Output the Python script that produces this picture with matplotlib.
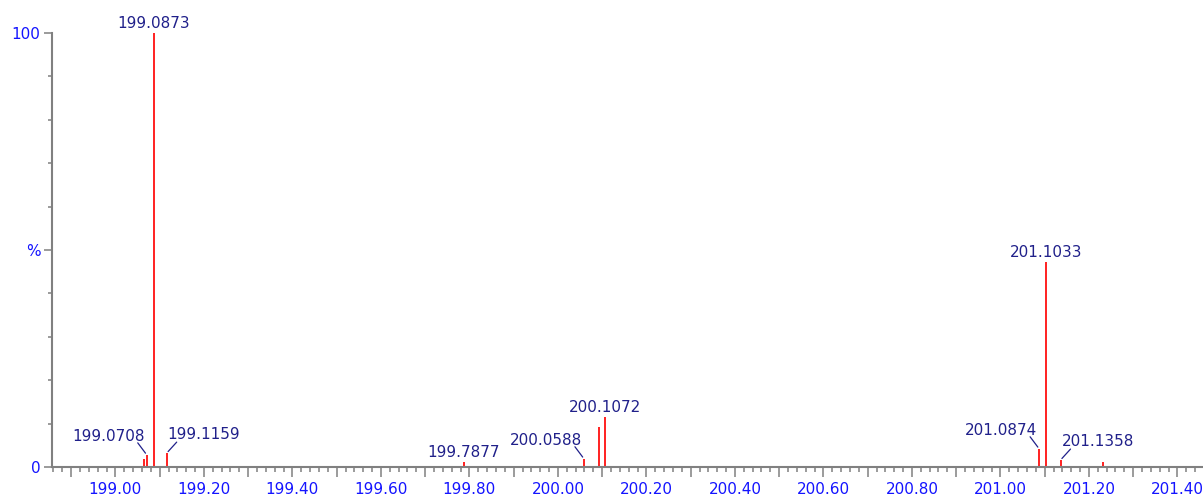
import matplotlib
matplotlib.use('Agg')
import matplotlib.pyplot as plt
from matplotlib.ticker import MultipleLocator, FixedLocator, FuncFormatter

# -------------------------------------------------------
# Peak list (m/z, relative intensity %)
mz = [199.0647, 199.0708, 199.0873, 199.1159, 199.7877, 200.0588,
      200.0930, 200.1072, 201.0874, 201.1033, 201.1358, 201.2310]
intensity = [1.8, 2.8, 100.0, 3.2, 1.2, 1.9,
             9.2, 11.5, 4.2, 47.2, 1.6, 1.2]

# Peaks that carry a label
labels = ['', '199.0708', '199.0873', '199.1159', '199.7877', '200.0588',
          '', '200.1072', '201.0874', '201.1033', '201.1358', '']

# how each label sits: 'top' = centred above, 'left'/'right' = with a leader line
placement = ['', 'left', 'top', 'right', 'top', 'left',
             '', 'top', 'left', 'top', 'right', '']

y_ticks = [0, 50, 100]
y_tick_labels = ['0', '%', '100']

# -------------------------------------------------------
# Colours
peak_color = '#ff2020'
label_color = '#20208a'
tick_color = '#1414ff'
axis_color = '#808080'

fig = plt.figure(figsize=(12.03, 4.97), dpi=100)
ax = fig.add_axes([52 / 1203, 30 / 497, 1 - 52 / 1203, 434 / 497])

# Draw the peaks as sticks
ax.vlines(mz, 0, intensity, color=peak_color, linewidth=1.4, clip_on=False)

# Peak labels
for x, y, text, where in zip(mz, intensity, labels, placement):
    if not text:
        continue
    if where == 'top':
        ax.annotate(text, xy=(x, y), xytext=(0, 5), textcoords='offset pixels',
                    ha='center', va='baseline', fontsize=11, color=label_color)
    elif where == 'left':
        ax.annotate(text, xy=(x, y), xytext=(-2, 14), textcoords='offset pixels',
                    ha='right', va='baseline', fontsize=11, color=label_color)
        ax.annotate('', xy=(x, y), xytext=(-9, 12), textcoords='offset pixels',
                    arrowprops=dict(arrowstyle='-', color=label_color, lw=0.9,
                                    shrinkA=0, shrinkB=1.5))
    else:
        ax.annotate(text, xy=(x, y), xytext=(1, 14), textcoords='offset pixels',
                    ha='left', va='baseline', fontsize=11, color=label_color)
        ax.annotate('', xy=(x, y), xytext=(10, 11), textcoords='offset pixels',
                    arrowprops=dict(arrowstyle='-', color=label_color, lw=0.9,
                                    shrinkA=0, shrinkB=1.5))

# -------------------------------------------------------
# Axes styling
ax.set_xlim(198.8567, 201.4578)
ax.set_ylim(0, 100)

for side in ['top', 'right']:
    ax.spines[side].set_visible(False)
for side in ['left', 'bottom']:
    ax.spines[side].set_color(axis_color)
    ax.spines[side].set_linewidth(1.5)

ax.xaxis.set_major_locator(MultipleLocator(0.1))
ax.xaxis.set_minor_locator(MultipleLocator(0.02))
ax.xaxis.set_major_formatter(FuncFormatter(
    lambda v, pos: f'{v:.2f}' if abs(round(v * 10) % 2) == 0 else ''))

ax.yaxis.set_major_locator(FixedLocator(y_ticks))
ax.set_yticklabels(y_tick_labels)
ax.yaxis.set_minor_locator(MultipleLocator(10))

ax.tick_params(axis='x', which='major', direction='out', length=7.2, width=1.1,
               color=axis_color, labelcolor=tick_color, labelsize=11, pad=3.5)
ax.tick_params(axis='x', which='minor', direction='out', length=3.3, width=1.1,
               color=axis_color)
ax.tick_params(axis='y', which='major', direction='out', length=5.8, width=1.1,
               color=axis_color, labelcolor=tick_color, labelsize=11, pad=2.5)
ax.tick_params(axis='y', which='minor', direction='out', length=3.0, width=1.1,
               color=axis_color)

ax.set_facecolor('white')
fig.patch.set_facecolor('white')

fig.savefig('out.png', dpi=100)
